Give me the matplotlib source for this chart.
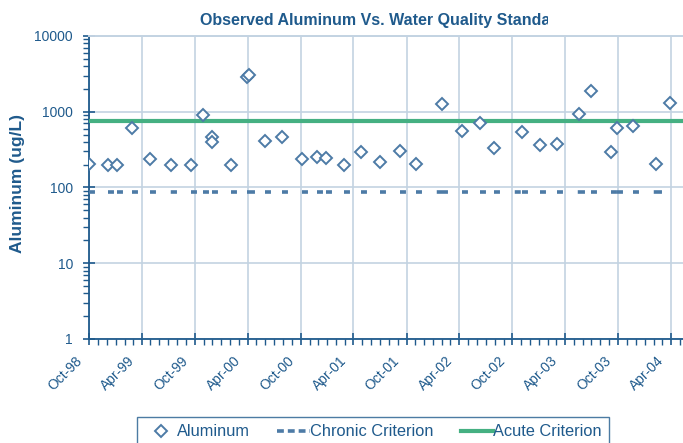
import datetime as dt

import matplotlib
matplotlib.use("Agg")
import matplotlib.pyplot as plt
import matplotlib.dates as mdates
from matplotlib.ticker import FixedFormatter, FuncFormatter, LogLocator, NullFormatter
from matplotlib.transforms import Bbox, ScaledTranslation

# Sample dates and observed aluminum (ug/L)
sample_dates = [
    "1998-10-02", "1998-12-05", "1999-01-05", "1999-02-25", "1999-04-30",
    "1999-07-12", "1999-09-18", "1999-10-30", "1999-11-29", "1999-11-29",
    "2000-02-03", "2000-03-30", "2000-04-04", "2000-06-01", "2000-07-29",
    "2000-10-05", "2000-11-27", "2000-12-27", "2001-02-28", "2001-04-27",
    "2001-07-02", "2001-09-08", "2001-11-02", "2002-02-02", "2002-04-11",
    "2002-06-13", "2002-07-29", "2002-11-03", "2003-01-05", "2003-03-06",
    "2003-05-19", "2003-07-01", "2003-09-07", "2003-09-28", "2003-11-22",
    "2004-02-09", "2004-03-27",
]
aluminum = [
    202, 200, 200, 615, 236,
    200, 200, 898, 460, 395,
    200, 2900, 3050, 411, 460,
    236, 253, 245, 200, 291,
    219, 306, 202, 1254, 557,
    717, 329, 535, 367, 379,
    934, 1880, 294, 615, 643,
    202, 1318,
]

chronic_criterion = 87
acute_criterion = 750

x_start = "1998-10-01"
x_end = "2004-10-01"
last_date_label = "2004-04-01"   # later labels fall outside the exported image
y_ticks = [1, 10, 100, 1000, 10000]
y_tick_labels = ["1", "10", "100", "1000", "10000"]

title = "Observed Aluminum Vs. Water Quality Standards"

NAVY = "#1f5a8c"
STEEL = "#4d7ba6"
GREEN = "#45b082"
GRID = "#c3d3e2"

plt.rcParams["font.family"] = ["Liberation Sans", "DejaVu Sans"]


def to_date(s):
    return dt.datetime.strptime(s, "%Y-%m-%d")


dates = [to_date(d) for d in sample_dates]

fig = plt.figure(figsize=(6.83, 4.43), dpi=100)
ax = fig.add_axes([89 / 683, 104 / 443, 635 / 683, 303 / 443])

# Observed values as open diamonds
ax.plot(dates, aluminum, linestyle="none", marker="D", markersize=6,
        markerfacecolor="white", markeredgecolor=STEEL, markeredgewidth=1.4,
        zorder=4, label="Aluminum")

# Chronic criterion: dashes restart at every sample date (Excel style)
chronic_dates = sorted(set(dates))
for d0, d1 in zip(chronic_dates[:-1], chronic_dates[1:]):
    ax.plot([d0, d1], [chronic_criterion, chronic_criterion], color=STEEL,
            linewidth=2.6, dashes=(1.65, 4.1), dash_capstyle="butt",
            zorder=3)
# proxy for the legend
ax.plot([], [], color=STEEL, linewidth=2.6, dashes=(1.9, 1.1),
        dash_capstyle="butt", label="Chronic Criterion")

# Acute criterion
ax.axhline(acute_criterion, color=GREEN, linewidth=3, zorder=3,
           label="Acute Criterion")

# Axes scales
ax.set_yscale("log")
ax.set_ylim(1, 10000)
ax.set_xlim(to_date(x_start), to_date(x_end))

ax.set_yticks(y_ticks)
ax.yaxis.set_major_formatter(FixedFormatter(y_tick_labels))
ax.yaxis.set_minor_locator(LogLocator(base=10, subs=range(2, 10)))
ax.yaxis.set_minor_formatter(NullFormatter())

last_label_num = mdates.date2num(to_date(last_date_label))


def date_label(x, pos=None):
    if x > last_label_num + 1:
        return ""
    return mdates.num2date(x).strftime("%b-%y")


ax.xaxis.set_major_locator(mdates.MonthLocator(bymonth=(4, 10)))
ax.xaxis.set_major_formatter(FuncFormatter(date_label))
ax.xaxis.set_minor_locator(mdates.MonthLocator())

# Grid
ax.grid(True, which="major", color=GRID, linewidth=1.2, zorder=0)
ax.set_axisbelow(True)

# Spines and ticks
ax.spines["right"].set_visible(False)
ax.spines["top"].set_color(GRID)
ax.spines["top"].set_linewidth(1.4)
for side in ("left", "bottom"):
    ax.spines[side].set_color(NAVY)
    ax.spines[side].set_linewidth(1.3)

ax.tick_params(which="major", direction="inout", length=8, width=1.2,
               color=NAVY, labelcolor=NAVY, labelsize=10)
ax.tick_params(which="minor", direction="out", length=4, width=1.0,
               color=NAVY)
ax.tick_params(axis="y", which="major", pad=7.5)
ax.tick_params(axis="x", which="major", pad=6.5)

# rotated date labels, shifted left so they sit under the tick
shift = ScaledTranslation(-14 / 100, 0, fig.dpi_scale_trans)
for lbl in ax.get_xticklabels():
    lbl.set_rotation(45)
    lbl.set_ha("right")
    lbl.set_va("top")
    lbl.set_rotation_mode("anchor")
    lbl.set_transform(lbl.get_transform() + shift)

# Title clipped like the original export
t = fig.text(200 / 683, 1 - 25 / 443, title, ha="left", va="baseline",
             fontsize=11.5, fontweight="bold", color=NAVY)
t.set_clip_box(Bbox.from_extents(0, 0, 548, 443))
t.set_clip_on(True)

fig.text(18 / 683, 1 - 183 / 443, "Aluminum (ug/L)", rotation=90,
         ha="center", va="center", fontsize=12.5, fontweight="bold",
         color=NAVY)

leg = fig.legend(loc="upper left", bbox_to_anchor=(137 / 683, 1 - 417 / 443),
                 ncol=3, frameon=True, fancybox=False, fontsize=11.8,
                 handlelength=2.0, handletextpad=0.0, columnspacing=1.65,
                 borderaxespad=0, borderpad=0.45)
leg.get_frame().set_edgecolor(NAVY)
leg.get_frame().set_linewidth(1.0)
for txt in leg.get_texts():
    txt.set_color(NAVY)

plt.savefig("out.png", dpi=100)
